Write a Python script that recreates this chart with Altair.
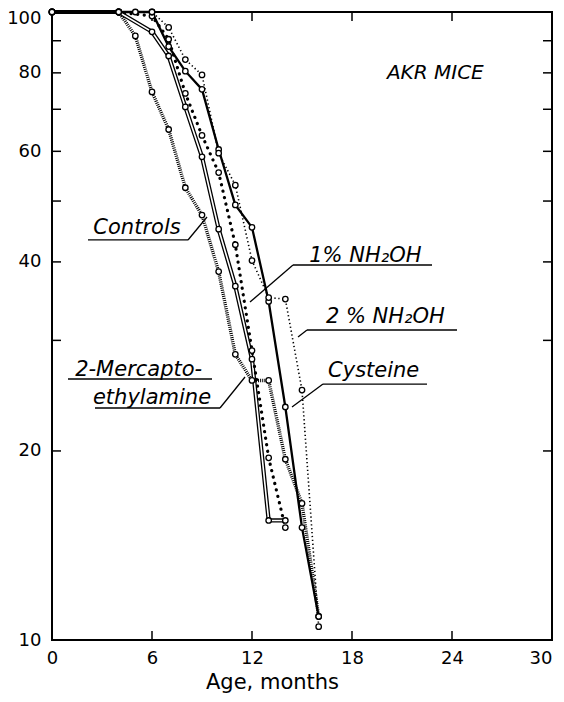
import altair as alt
import pandas as pd

# ---- survival data (% surviving vs age in months) ----
months_controls = [0, 4, 5, 6, 7, 8, 9, 10, 11, 12, 13, 14, 15, 16]
surv_controls = [100, 100, 91.6, 74.6, 65.0, 52.5, 47.5, 38.6, 28.5, 25.9, 25.9, 19.4, 16.5, 10.9]

months_mea = [0, 4, 6, 7, 8, 9, 10, 11, 12, 13, 14]
surv_mea = [100, 100, 93.0, 85.1, 70.6, 58.8, 45.1, 36.6, 28.0, 15.5, 15.5]

months_nh1 = [0, 4, 6, 7, 8, 9, 10, 11, 12, 13, 14]
surv_nh1 = [100, 100, 98.5, 90.5, 74.2, 63.6, 55.5, 42.6, 28.9, 19.5, 15.1]

months_cys = [0, 4, 5, 6, 7, 8, 9, 10, 11, 12, 13, 14, 15, 16]
surv_cys = [100, 100, 100, 100, 88.1, 80.5, 75.3, 60.4, 49.3, 45.4, 34.6, 23.5, 15.1, 10.9]

months_nh2 = [0, 4, 6, 7, 8, 9, 10, 11, 12, 13, 14, 15, 16]
surv_nh2 = [100, 100, 100, 94.5, 84.0, 79.4, 59.6, 53.0, 40.2, 35.1, 34.9, 25.0, 10.5]

# ---- axis ticks ----
x_tick_labels = [0, 6, 12, 18, 24, 30]
y_tick_labels = [10, 20, 40, 60, 80, 100]
x_minor = [6, 12, 18, 24]
y_minor = [20, 30, 40, 50, 60, 70, 80, 90]

# ---- annotations ----
label_text = ["Controls", "1% NH\u2082OH", "2 % NH\u2082OH", "Cysteine",
              "2-Mercapto-", "ethylamine"]
label_x = [5.1, 18.8, 20.0, 19.3, 5.2, 6.0]
label_y = [45.3, 40.9, 32.7, 26.8, 26.9, 24.3]

title_text = ["AKR MICE"]
title_x = [23.0]
title_y = [80.0]

seg_x1 = [2.16, 8.16, 14.46, 14.46, 15.3, 15.3, 16.26, 16.26, 0.96, 2.58, 10.08]
seg_x2 = [8.16, 9.3, 22.8, 11.88, 24.3, 14.76, 22.5, 14.4, 9.6, 10.08, 11.58]
seg_y1 = [43.35, 43.35, 39.55, 39.55, 31.16, 31.16, 25.56, 25.56, 26.04, 23.41, 23.41]
seg_y2 = [43.35, 47.16, 39.55, 34.53, 31.16, 30.37, 25.56, 23.5, 26.04, 23.41, 26.23]

# ---- build tables ----
def series(name, m, s):
    return pd.DataFrame({"series": name, "month": m, "surv": s})

df = pd.concat([
    series("Controls", months_controls, surv_controls),
    series("MEA", months_mea, surv_mea),
    series("NH1", months_nh1, surv_nh1),
    series("Cys", months_cys, surv_cys),
    series("NH2", months_nh2, surv_nh2),
], ignore_index=True)

labels_df = pd.DataFrame({"t": label_text, "x": label_x, "y": label_y})
title_df = pd.DataFrame({"t": title_text, "x": title_x, "y": title_y})
seg_df = pd.DataFrame({"x1": seg_x1, "x2": seg_x2, "y1": seg_y1, "y2": seg_y2})
xt_df = pd.DataFrame({"v": x_minor})
yt_df = pd.DataFrame({"v": y_minor})

W, H = 500, 628
xs = alt.Scale(domain=[0, 30], nice=False, zero=False)
ys = alt.Scale(type="log", domain=[10, 100], nice=False)
FONT = "DejaVu Sans"

x_axis = alt.Axis(values=x_tick_labels, ticks=False, tickSize=0, domain=False, grid=False,
                  labelFont=FONT, labelFontSize=18, labelPadding=9, labelColor="black",
                  labelFlush=False,
                  labelAlign={"condition": {"test": "datum.value == 30", "value": "right"},
                              "value": "center"},
                  title="Age, months", titleFont=FONT, titleFontSize=21,
                  titleFontWeight="normal", titleColor="black", titlePadding=4, titleX=220)
y_axis = alt.Axis(values=y_tick_labels, ticks=False, tickSize=0, domain=False, grid=False,
                  labelFont=FONT, labelFontSize=18, labelPadding=11, labelColor="black",
                  labelFlush=False,
                  labelOffset={"condition": {"test": "datum.value == 100", "value": 6},
                               "value": 0},
                  format="d", title=None)


def X(field):
    return alt.X(field, scale=xs, axis=x_axis, title="Age, months")


def Y(field):
    return alt.Y(field, scale=ys, axis=y_axis, title=None)


base = alt.Chart(df)


def line_layer(name, **style):
    return base.transform_filter(alt.datum.series == name).mark_line(**style).encode(
        x=X("month:Q"), y=Y("surv:Q"), order="month:Q",
    )


controls = line_layer("Controls", color="black", strokeWidth=3.4, strokeDash=[1, 1.1])
mea_outer = line_layer("MEA", color="black", strokeWidth=4.2)
mea_inner = line_layer("MEA", color="white", strokeWidth=1.6)
nh1 = line_layer("NH1", color="black", strokeWidth=3.2, strokeDash=[0.1, 6.5], strokeCap="round")
cys = line_layer("Cys", color="black", strokeWidth=2.3)
nh2 = line_layer("NH2", color="black", strokeWidth=1.6, strokeDash=[1.3, 2.6])

points = base.mark_point(shape="circle", filled=True, fill="white", stroke="black",
                         strokeWidth=1.3, size=30, opacity=1).encode(
    x=X("month:Q"), y=Y("surv:Q"))

# inward tick marks on all four sides
left_ticks = alt.Chart(yt_df).mark_rule(color="black", strokeWidth=1.5).encode(
    y=Y("v:Q"), x=alt.value(0), x2=alt.value(9))
right_ticks = alt.Chart(yt_df).mark_rule(color="black", strokeWidth=1.5).encode(
    y=Y("v:Q"), x=alt.value(W - 9), x2=alt.value(W))
bottom_ticks = alt.Chart(xt_df).mark_rule(color="black", strokeWidth=1.5).encode(
    x=X("v:Q"), y=alt.value(H - 9), y2=alt.value(H))
top_ticks = alt.Chart(xt_df).mark_rule(color="black", strokeWidth=1.5).encode(
    x=X("v:Q"), y=alt.value(0), y2=alt.value(9))

segs = alt.Chart(seg_df).mark_rule(color="black", strokeWidth=1.3).encode(
    x=X("x1:Q"), x2="x2:Q", y=Y("y1:Q"), y2="y2:Q")

labels = alt.Chart(labels_df).mark_text(font=FONT, fontStyle="italic", fontSize=21,
                                        align="center", baseline="middle", color="black").encode(
    x=X("x:Q"), y=Y("y:Q"), text="t:N")

title = alt.Chart(title_df).mark_text(font=FONT, fontStyle="italic", fontSize=20,
                                      align="center", baseline="middle", color="black").encode(
    x=X("x:Q"), y=Y("y:Q"), text="t:N")

chart = alt.layer(
    points.mark_point(opacity=0),
    left_ticks, right_ticks, bottom_ticks, top_ticks,
    controls, mea_outer, mea_inner, nh1, cys, nh2, points,
    segs, labels, title,
).properties(
    width=W, height=H,
    autosize="none",
    padding={"left": 44, "top": 4, "right": 4, "bottom": 54},
    background="white",
).configure_view(stroke="black", strokeWidth=2)

chart.save("out.html", embed_options={"renderer": "svg", "actions": False})
